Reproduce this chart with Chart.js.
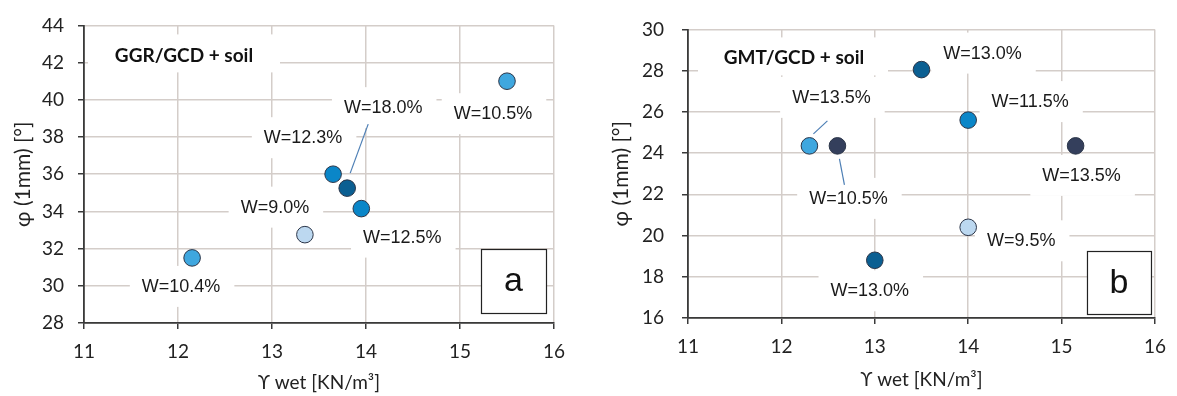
<!DOCTYPE html>
<html>
<head>
<meta charset="utf-8">
<script src="https://cdn.jsdelivr.net/npm/chart.js@4.4.1/dist/chart.umd.min.js"></script>
<style>
  html, body { margin: 0; padding: 0; background: #fff; }
  #wrap { position: relative; width: 1177px; height: 396px; overflow: hidden; }
  canvas { position: absolute; top: 0; }
  #ca { left: 0; }
  #cb { left: 590px; }
</style>
</head>
<body>
<div id="wrap">
  <canvas id="ca" width="590" height="396"></canvas>
  <canvas id="cb" width="587" height="396"></canvas>
</div>
<script>
// Panel a: GGR/GCD + soil
const gammaA = [12.15, 13.35, 13.65, 13.8, 13.95, 15.5];
const phiA   = [31.5, 32.75, 36.0, 35.25, 34.15, 41.0];
const waterA = ['W=10.4%', 'W=9.0%', 'W=12.3%', 'W=18.0%', 'W=12.5%', 'W=10.5%'];

// Panel b: GMT/GCD + soil
const gammaB = [12.3, 12.6, 13.0, 13.5, 14.0, 14.0, 15.15];
const phiB   = [24.35, 24.35, 18.8, 28.05, 25.6, 20.4, 24.35];
const waterB = ['W=13.5%', 'W=10.5%', 'W=13.0%', 'W=13.0%', 'W=11.5%', 'W=9.5%', 'W=13.5%'];

// Axis ticks
const xTicks  = [11, 12, 13, 14, 15, 16];
const yTicksA = [28, 30, 32, 34, 36, 38, 40, 42, 44];
const yTicksB = [16, 18, 20, 22, 24, 26, 28, 30];

// Marker shades (pale, light, medium, dark, navy) and which one each point uses
const palette = ['#bcd8f0', '#3fa7df', '#0a86c8', '#0b5f92', '#343f5c'];
const shadeA = [1, 0, 2, 3, 2, 1];
const shadeB = [1, 4, 3, 3, 2, 0, 4];

// Label placement: text centre offset from its marker, in pixels
const labelPosA = [[-11, 29], [-30, -27], [-30, -36], [36, -80], [41, 29], [-14, 33]];
const labelPosB = [[22, -48], [11, 53], [-5, 31], [61, -16], [62, -18], [53, 14], [6, 30]];
// Leader lines: [x1, y1, x2, y2] offsets from the marker
const leaderA = [null, null, null, [3, -15, 21, -64], null, null];
const leaderB = [[4, -12, 18, -25], [2, 13, 7, 39], null, null, null, null, null];

const GRID = '#d4cdc9';
const AXIS = '#3a3a3a';
const TICK_FONT = { family: 'Lato, "Open Sans", sans-serif', size: 19 };
const TITLE_FONT = { family: 'Lato, "Open Sans", sans-serif', size: 19 };
const Y_TITLE_FONT = { family: 'Lato, "Open Sans", sans-serif', size: 21 };
const LABEL_FONT = '18px "Liberation Sans", Arial, sans-serif';

const decor = {
  id: 'decor',
  beforeDatasetsDraw(chart, args, o) {
    const ctx = chart.ctx;
    const area = chart.chartArea;
    const meta = chart.getDatasetMeta(0);
    ctx.save();
    // title with its white backing
    ctx.fillStyle = '#fff';
    ctx.fillRect(area.left + o.titleBox[0], area.top + o.titleBox[1], o.titleBox[2], o.titleBox[3]);
    ctx.fillStyle = '#111';
    ctx.font = 'bold 19px Lato, "Open Sans", sans-serif';
    ctx.textAlign = 'center';
    ctx.textBaseline = 'middle';
    ctx.fillText(o.title, area.left + o.titleAt[0], area.top + o.titleAt[1]);

    // data labels with white backing boxes
    ctx.font = LABEL_FONT;
    meta.data.forEach((pt, i) => {
      const [dx, dy] = o.pos[i];
      const cx = pt.x + dx, cy = pt.y + dy;
      const w = ctx.measureText(o.labels[i]).width;
      ctx.fillStyle = '#fff';
      ctx.fillRect(cx - w / 2 - 12, cy - 21, w + 26, 41);
    });
    meta.data.forEach((pt, i) => {
      const [dx, dy] = o.pos[i];
      ctx.fillStyle = '#1a1a1a';
      ctx.fillText(o.labels[i], pt.x + dx, pt.y + dy);
      const l = o.leaders[i];
      if (l) {
        ctx.strokeStyle = '#4d7fb5';
        ctx.lineWidth = 1.2;
        ctx.beginPath();
        ctx.moveTo(pt.x + l[0], pt.y + l[1]);
        ctx.lineTo(pt.x + l[2], pt.y + l[3]);
        ctx.stroke();
      }
    });

    // panel letter box
    const b = o.letterBox;
    const bx = area.right + b[0], by = area.bottom + b[1];
    ctx.fillStyle = '#fff';
    ctx.fillRect(bx, by, b[2], b[3]);
    ctx.strokeStyle = '#222';
    ctx.lineWidth = 1.2;
    ctx.strokeRect(bx + 0.5, by + 0.5, b[2], b[3]);
    ctx.fillStyle = '#111';
    ctx.font = '34px "Liberation Sans", Arial, sans-serif';
    ctx.fillText(o.letter, bx + b[2] / 2, by + b[3] / 2 + 1);
    ctx.restore();
  }
};

function makePanel(id, gx, gy, shade, yTicks, lay, decorOpts) {
  const points = gx.map((x, i) => ({ x, y: gy[i] }));
  return new Chart(document.getElementById(id), {
    type: 'scatter',
    data: {
      datasets: [{
        data: points,
        pointRadius: 8.3,
        pointHoverRadius: 8.3,
        pointBackgroundColor: shade.map(s => palette[s]),
        pointBorderColor: '#2b3548',
        pointBorderWidth: 1
      }]
    },
    options: {
      responsive: false,
      animation: false,
      devicePixelRatio: 1,
      events: [],
      layout: { padding: { top: lay.top, right: lay.right, left: 0, bottom: 0 } },
      plugins: { legend: { display: false }, tooltip: { enabled: false }, decor: decorOpts },
      scales: {
        x: {
          type: 'linear',
          min: xTicks[0], max: xTicks[xTicks.length - 1],
          afterBuildTicks: s => { s.ticks = xTicks.map(v => ({ value: v })); },
          afterFit: s => { s.height = lay.xHeight; },
          grid: { color: GRID, lineWidth: 1.5, tickColor: AXIS, tickLength: 6, tickWidth: 1.5 },
          border: { color: AXIS, width: 1.8 },
          ticks: { color: '#222', font: TICK_FONT, padding: lay.xPad, maxRotation: 0 },
          title: { display: true, text: 'ϒ wet [KN/m³]', color: '#222', font: TITLE_FONT, padding: { top: 0, bottom: lay.xTitlePad } }
        },
        y: {
          type: 'linear',
          min: yTicks[0], max: yTicks[yTicks.length - 1],
          afterBuildTicks: s => { s.ticks = yTicks.map(v => ({ value: v })); },
          afterFit: s => { s.width = lay.yWidth; },
          grid: { color: GRID, lineWidth: 1.5, tickColor: AXIS, tickLength: 6, tickWidth: 1.5 },
          border: { color: AXIS, width: 1.8 },
          ticks: { color: '#222', font: TICK_FONT, padding: lay.yPad },
          title: { display: true, text: 'φ (1mm) [°]', color: '#222', font: Y_TITLE_FONT, padding: { top: lay.yTitlePad, bottom: 0 } }
        }
      }
    },
    plugins: [decor]
  });
}

makePanel('ca', gammaA, phiA, shadeA, yTicksA,
  { top: 23, right: 36, xHeight: 73, yWidth: 84, xPad: 11, yPad: 14, xTitlePad: 2, yTitlePad: 11 },
  { title: 'GGR/GCD + soil', titleBox: [4, 9, 192, 38], titleAt: [100, 30],
    labels: waterA, pos: labelPosA, leaders: leaderA, letter: 'a', letterBox: [-73, -74, 65, 64] });

makePanel('cb', gammaB, phiB, shadeB, yTicksB,
  { top: 17, right: 18, xHeight: 78, yWidth: 98, xPad: 11, yPad: 18, xTitlePad: 5, yTitlePad: 19 },
  { title: 'GMT/GCD + soil', titleBox: [10, 8, 190, 38], titleAt: [106, 28],
    labels: waterB, pos: labelPosB, leaders: leaderB, letter: 'b', letterBox: [-68, -67, 64, 63] });
</script>
</body>
</html>
